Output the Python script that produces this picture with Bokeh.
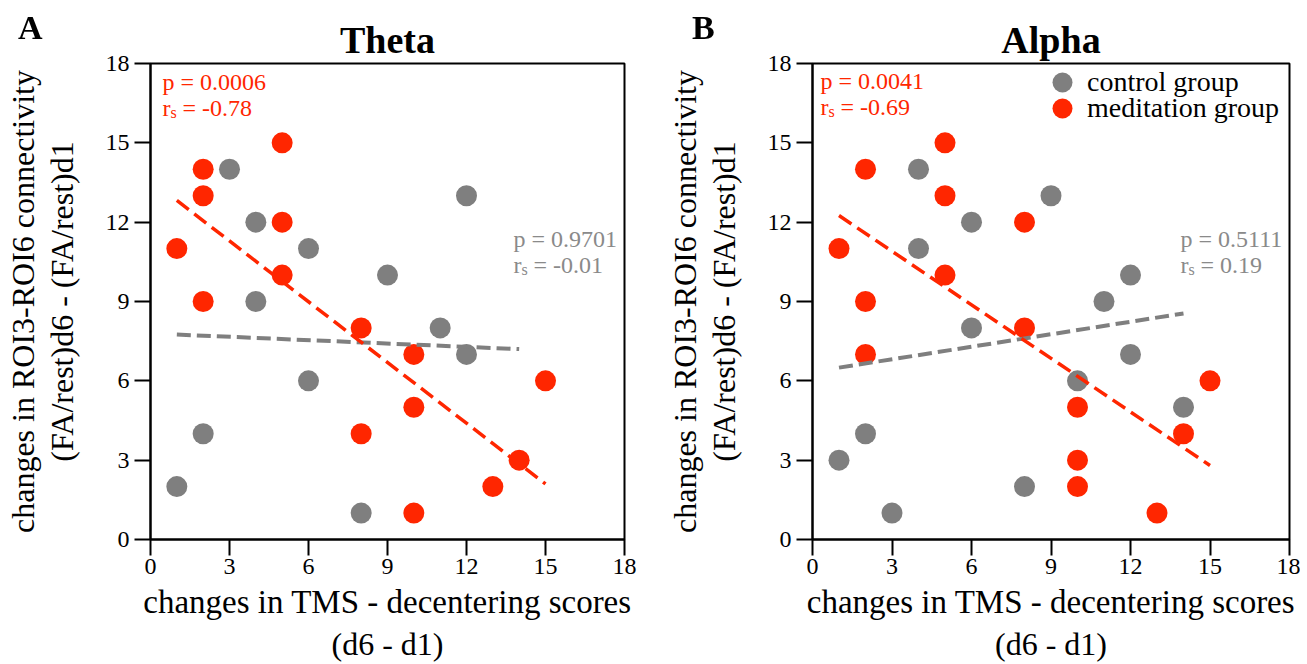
from bokeh.plotting import figure
from bokeh.models import Range1d, LinearAxis, FixedTicker, Label, Legend, LegendItem, Div
from bokeh.layouts import row
from bokeh.embed import file_html
from bokeh.resources import INLINE

FONT = "Liberation Serif"
RED = "#FF2600"
GRAY = "#7F7F7F"
GRAY_TXT = "#8A8A8A"

ticks = [0, 3, 6, 9, 12, 15, 18]

# ---- Theta panel data ----
theta_ctrl_x = [3, 12, 4, 6, 9, 4, 11, 12, 6, 2, 1, 8]
theta_ctrl_y = [14, 13, 12, 11, 10, 9, 8, 7, 6, 4, 2, 1]
theta_med_x = [5, 2, 2, 5, 1, 5, 2, 8, 10, 15, 10, 8, 14, 13, 10]
theta_med_y = [15, 14, 13, 12, 11, 10, 9, 8, 7, 6, 5, 4, 3, 2, 1]
theta_ctrl_fit_x = [1, 14]
theta_ctrl_fit_y = [7.75, 7.2]
theta_med_fit_x = [1, 15]
theta_med_fit_y = [12.82, 2.1]
theta_med_stats = ["0.0006", "-0.78"]
theta_ctrl_stats = ["0.9701", "-0.01"]

# ---- Alpha panel data ----
alpha_ctrl_x = [4, 9, 6, 4, 12, 11, 6, 12, 10, 14, 2, 1, 8, 3]
alpha_ctrl_y = [14, 13, 12, 11, 10, 9, 8, 7, 6, 5, 4, 3, 2, 1]
alpha_med_x = [5, 2, 5, 8, 1, 5, 2, 8, 2, 15, 10, 14, 10, 10, 13]
alpha_med_y = [15, 14, 13, 12, 11, 10, 9, 8, 7, 6, 5, 4, 3, 2, 1]
alpha_ctrl_fit_x = [1, 14]
alpha_ctrl_fit_y = [6.5, 8.55]
alpha_med_fit_x = [1, 15]
alpha_med_fit_y = [12.25, 2.8]
alpha_med_stats = ["0.0041", "-0.69"]
alpha_ctrl_stats = ["0.5111", "0.19"]

x_label = ["changes in TMS - decentering scores", "(d6 - d1)"]
y_label = ["changes in ROI3-ROI6 connectivity", "(FA/rest)d6 - (FA/rest)d1"]
legend_labels = ["control group", "meditation group"]
panel_letters = ["A", "B"]


def stat_block(p, x, y, pval, rs, color):
    p.add_layout(Label(x=x, y=y, x_units="screen", y_units="screen", text="p = " + pval,
                       text_font=FONT, text_font_size="24px", text_color=color,
                       text_baseline="alphabetic"))
    y2 = y - 26
    p.add_layout(Label(x=x, y=y2, x_units="screen", y_units="screen", text="r",
                       text_font=FONT, text_font_size="24px", text_color=color,
                       text_baseline="alphabetic"))
    p.add_layout(Label(x=x + 8, y=y2 - 5, x_units="screen", y_units="screen", text="s",
                       text_font=FONT, text_font_size="16px", text_color=color,
                       text_baseline="alphabetic"))
    p.add_layout(Label(x=x + 20, y=y2, x_units="screen", y_units="screen", text="= " + rs,
                       text_font=FONT, text_font_size="24px", text_color=color,
                       text_baseline="alphabetic"))


def make_panel(title, cx, cy, mx, my, cfx, cfy, mfx, mfy, mstats, cstats,
               width, border_right, red_pos, gray_pos, title_offset, legend=False):
    p = figure(width=width, height=664, x_range=Range1d(0, 18), y_range=Range1d(0, 18),
               output_backend="svg", toolbar_location=None,
               min_border_left=150, min_border_right=border_right,
               min_border_top=63, min_border_bottom=125)
    p.grid.visible = False
    p.outline_line_color = "black"
    p.outline_line_width = 2
    p.background_fill_color = "white"
    p.border_fill_color = "white"

    for ax in (p.xaxis[0], p.yaxis[0]):
        ax.ticker = FixedTicker(ticks=ticks)
        ax.minor_tick_line_color = None
        ax.major_tick_in = 0
        ax.major_tick_out = 16
        ax.major_tick_line_width = 2
        ax.major_tick_line_color = "black"
        ax.axis_line_width = 2
        ax.axis_line_color = "black"
        ax.major_label_text_font = FONT
        ax.major_label_text_font_size = "24px"
        ax.major_label_text_color = "black"
        ax.axis_label_text_font = FONT
        ax.axis_label_text_font_style = "normal"
        ax.axis_label_text_color = "black"

    p.xaxis[0].axis_label = x_label[0]
    p.xaxis[0].axis_label_text_font_size = "33px"
    p.xaxis[0].major_label_standoff = 3
    p.xaxis[0].axis_label_standoff = 7

    p.yaxis[0].axis_label = y_label[1]
    p.yaxis[0].axis_label_text_font_size = "32px"
    p.yaxis[0].major_label_standoff = 5
    p.yaxis[0].axis_label_standoff = 23

    xa2 = LinearAxis(ticker=FixedTicker(ticks=[]), axis_label=x_label[1],
                     axis_line_color=None, major_tick_line_color=None, minor_tick_line_color=None,
                     major_tick_out=0, major_tick_in=0, major_label_standoff=0,
                     axis_label_standoff=3, axis_label_text_font=FONT,
                     axis_label_text_font_size="32px", axis_label_text_font_style="normal",
                     axis_label_text_color="black")
    p.add_layout(xa2, "below")
    ya2 = LinearAxis(ticker=FixedTicker(ticks=[]), axis_label=y_label[0],
                     axis_line_color=None, major_tick_line_color=None, minor_tick_line_color=None,
                     major_tick_out=0, major_tick_in=0, major_label_standoff=0,
                     axis_label_standoff=0, axis_label_text_font=FONT,
                     axis_label_text_font_size="32px", axis_label_text_font_style="normal",
                     axis_label_text_color="black")
    p.add_layout(ya2, "left")

    p.title.text = title
    p.title.text_font = FONT
    p.title.text_font_size = "38px"
    p.title.text_font_style = "bold"
    p.title.text_color = "black"
    p.title.align = "center"
    p.title.offset = title_offset
    p.title.standoff = 5

    rc = p.scatter(cx, cy, size=21, fill_color=GRAY, line_color=None)
    rm = p.scatter(mx, my, size=21, fill_color=RED, line_color=None)
    p.line(cfx, cfy, line_color=GRAY, line_width=4, line_dash="14 6")
    p.line(mfx, mfy, line_color=RED, line_width=3.5, line_dash="15 7")

    stat_block(p, red_pos[0], red_pos[1], mstats[0], mstats[1], RED)
    stat_block(p, gray_pos[0], gray_pos[1], cstats[0], cstats[1], GRAY_TXT)

    if legend:
        for i, (lab, rend) in enumerate(zip(legend_labels, [rc, rm])):
            lg = Legend(items=[LegendItem(label=lab, renderers=[rend])],
                        location=(225, 432 - 26 * i), glyph_width=50, glyph_height=50,
                        label_standoff=0, padding=0, margin=0, border_line_color=None,
                        background_fill_alpha=0, label_text_font=FONT,
                        label_text_font_size="28px", label_text_color="black")
            p.add_layout(lg)
    return p


pA = make_panel("Theta", theta_ctrl_x, theta_ctrl_y, theta_med_x, theta_med_y,
                theta_ctrl_fit_x, theta_ctrl_fit_y, theta_med_fit_x, theta_med_fit_y,
                theta_med_stats, theta_ctrl_stats, 662, 38, (12, 458), (363, 301), 5)
pB = make_panel("Alpha", alpha_ctrl_x, alpha_ctrl_y, alpha_med_x, alpha_med_y,
                alpha_ctrl_fit_x, alpha_ctrl_fit_y, alpha_med_fit_x, alpha_med_fit_y,
                alpha_med_stats, alpha_ctrl_stats, 638, 11, (8, 459), (368, 301), 0, legend=True)


def letter_div(letter, left):
    return Div(text=letter, width=40, height=40, margin=0,
               styles={"position": "fixed", "left": "%dpx" % left, "top": "11px",
                       "font-family": "'Liberation Serif'", "font-weight": "bold",
                       "font-size": "34px", "line-height": "34px", "color": "black"})


layout = row(pA, pB, letter_div(panel_letters[0], 18), letter_div(panel_letters[1], 692))
open("out.html", "w").write(file_html(layout, INLINE))
